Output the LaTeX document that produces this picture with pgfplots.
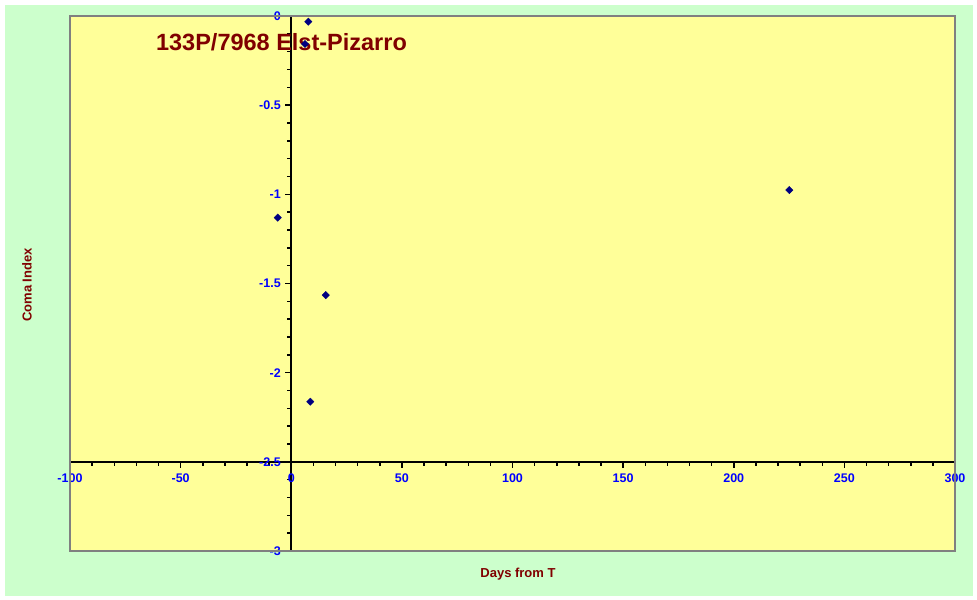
\documentclass[border=0pt]{standalone}
\usepackage{fontspec}
\setmainfont{Liberation Sans}
\usepackage{pgfplots}
\pgfplotsset{compat=1.18}
\definecolor{bggreen}{RGB}{204,255,204}
\definecolor{plotyellow}{RGB}{255,255,153}
\definecolor{darkred}{RGB}{128,0,0}
\definecolor{navy}{RGB}{0,0,128}
\definecolor{tickblue}{RGB}{0,0,255}
\begin{document}
\begin{tikzpicture}[x=1bp,y=1bp]
\fill[white] (-70,-49) rectangle (907,551);
\fill[bggreen] (-65,-45) rectangle (903,546);
\begin{axis}[at={(0,0)}, anchor=south west, scale only axis,
  width=885bp, height=535bp,
  xmin=-100, xmax=300, ymin=-3, ymax=0,
  y coord trafo/.code=\pgfmathparse{#1+2.5},
  y coord inv trafo/.code=\pgfmathparse{#1-2.5},
  axis lines=middle,
  axis line style={-, line width=2bp, black},
  axis background/.style={fill=plotyellow},
  xtick={-100,-50,0,50,100,150,200,250,300},
  ytick={-3,-2.5,-2,-1.5,-1,-0.5,0},
  yticklabels={-3,-2.5,-2,-1.5,-1,-0.5,0},
  minor x tick num=4, minor y tick num=4,
  hide obscured x ticks=false, hide obscured y ticks=false,
  tick align=outside,
  major tick length=6bp, minor tick length=4bp,
  every tick/.style={black, line width=1.5bp},
  /pgf/number format/assume math mode=true,
  tick label style={font=\fontsize{12.5bp}{14bp}\selectfont\bfseries, text=tickblue},
  yticklabel style={anchor=east, xshift=-1bp},
  xticklabel style={anchor=north, yshift=-2bp},
  clip=false,
]
\draw[gray, line width=2bp] (rel axis cs:0,0) rectangle (rel axis cs:1,1);
\addplot[only marks, mark=square*, mark size=2.6bp, mark options={rotate=45}, color=navy, fill=navy] coordinates {
  (7.7,-0.032)
  (6.2,-0.157)
  (-6.1,-1.131)
  (15.6,-1.565)
  (8.6,-2.163)
  (225.1,-0.976)
};
\node[text=darkred, font=\fontsize{23.5bp}{26bp}\selectfont\bfseries] at (rel axis cs:0.239,0.951) {133P/7968 Elst-Pizarro};
\end{axis}
\node[text=darkred, font=\fontsize{13bp}{15bp}\selectfont\bfseries, rotate=90] at (-43,266) {Coma Index};
\node[text=darkred, font=\fontsize{13bp}{15bp}\selectfont\bfseries] at (448,-23) {Days from T};
\end{tikzpicture}
\end{document}
